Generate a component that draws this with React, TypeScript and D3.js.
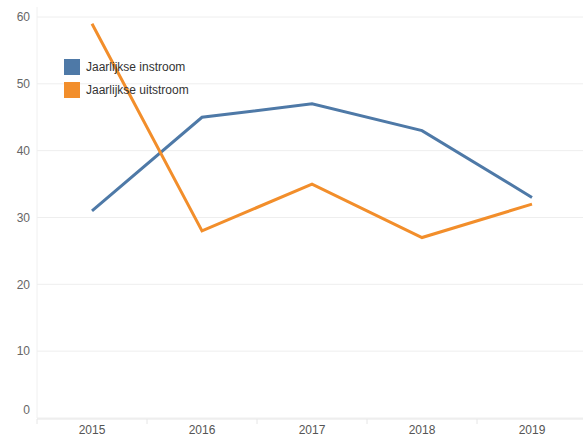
import React from "react";
import * as d3 from "d3";

const years = ["2015", "2016", "2017", "2018", "2019"];
const instroom = [31, 45, 47, 43, 33];
const uitstroom = [59, 28, 35, 27, 32];
const yTicks = [0, 10, 20, 30, 40, 50, 60];
const seriesNames = ["Jaarlijkse instroom", "Jaarlijkse uitstroom"];
const colors = ["#4e79a7", "#f28e2b"];

const W = 583, H = 439;
const left = 37, top = 17, bottom = 418;

export default function App() {
  const x = d3.scaleBand<string>().domain(years).range([left, left + 110 * years.length]).padding(0);
  const y = d3.scaleLinear().domain([0, 60]).range([bottom, top]);
  const line = d3.line<number>().x((_, i) => (x(years[i]) as number) + x.bandwidth() / 2).y((d) => y(d));
  const series = [instroom, uitstroom];
  const font = "Liberation Sans, Arial, Helvetica, sans-serif";
  return (
    <svg width={W} height={H} style={{ position: "absolute", left: 0, top: 0 }} fontFamily={font}>
      {yTicks.map((t) => (
        <g key={t}>
          <line x1={left} x2={W} y1={y(t)} y2={y(t)} stroke="#eeeeee" strokeWidth={1} />
          <text x={30} y={t === 0 ? y(t) - 8 : y(t)} dy="0.35em" textAnchor="end" fontSize={12} fill="#666">
            {t}
          </text>
        </g>
      ))}
      <line x1={left} x2={left} y1={top - 10} y2={bottom} stroke="#f0f0f0" />
      <line x1={left} x2={W} y1={bottom + 1} y2={bottom + 1} stroke="#e6e6e6" />
      {years.map((yr) => (
        <g key={yr}>
          <line x1={x(yr) as number} x2={x(yr) as number} y1={bottom + 1} y2={bottom + 6} stroke="#e6e6e6" />
          <text x={(x(yr) as number) + x.bandwidth() / 2} y={430} dy="0.35em" textAnchor="middle" fontSize={12} fill="#555">
            {yr}
          </text>
        </g>
      ))}
      {series.map((s, i) => (
        <path key={i} d={line(s) as string} fill="none" stroke={colors[i]} strokeWidth={3} strokeLinejoin="miter" />
      ))}
      {seriesNames.map((n, i) => (
        <g key={n} transform={`translate(64,${59 + i * 23})`}>
          <rect width={16} height={16} fill={colors[i]} />
          <text x={22} y={8} dy="0.35em" fontSize={12} fill="#333">
            {n}
          </text>
        </g>
      ))}
    </svg>
  );
}
